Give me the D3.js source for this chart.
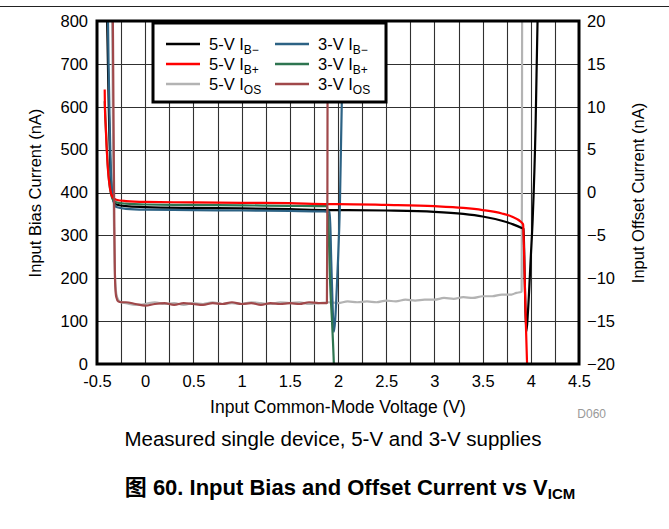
<!DOCTYPE html>
<html><head><meta charset="utf-8">
<script src="https://cdn.jsdelivr.net/npm/d3@7"></script>
<style>
body{margin:0;background:#fff;}
text{font-family:"Liberation Sans",Arial,sans-serif;}
</style></head>
<body>
<svg id="c" width="669" height="529"></svg>
<script>
// ---- data ----
const xTicks = [-0.5,0,0.5,1,1.5,2,2.5,3,3.5,4,4.5];
const xTickLabels = ["-0.5","0","0.5","1","1.5","2","2.5","3","3.5","4","4.5"];
const yLeftTicks = [0,100,200,300,400,500,600,700,800];
const yRightTicks = [-20,-15,-10,-5,0,5,10,15,20];

// 5-V IB- (nA, left axis)
const ib5neg = [[-0.40,860],[-0.39,740],[-0.38,620],[-0.37,520],[-0.36,450],[-0.35,410],[-0.34,390],[-0.32,377],[-0.3,372],[-0.2,368],[0,366],[0.5,364],[1,363],[1.5,361],[1.9,359],[2.0,359],[2.5,358],[3,355],[3.3,350],[3.5,344],[3.7,334],[3.8,327],[3.9,318],[3.925,315],[3.935,220],[3.945,120],[3.955,76],[3.97,120],[4.0,250],[4.02,340],[4.05,560],[4.07,800],[4.08,880]];
// 5-V IB+
const ib5pos = [[-0.42,640],[-0.418,600],[-0.41,555],[-0.40,505],[-0.39,465],[-0.38,437],[-0.37,418],[-0.36,404],[-0.35,395],[-0.33,387],[-0.3,383],[-0.2,380],[0,378],[0.5,377],[1,376],[1.5,375],[1.9,373],[2.0,373],[2.5,371],[3,368],[3.3,364],[3.5,359],[3.7,351],[3.8,344],[3.9,331],[3.92,326],[3.93,260],[3.94,170],[3.95,85],[3.96,10],[3.97,-60]];
// 5-V IOS (nA, right axis)
const ios5 = [[-0.345,22],[-0.34,16],[-0.333,6],[-0.325,-3],[-0.318,-8],[-0.31,-10.6],[-0.3,-11.8],[-0.28,-12.5],[-0.25,-12.8],[-0.2,-12.9],[-0.1,-13.1],[0,-13.0],[0.1,-12.8],[0.2,-13.0],[0.3,-12.9],[0.4,-13.1],[0.5,-12.9],[0.6,-13.0],[0.7,-12.8],[0.8,-13.0],[0.9,-12.9],[1.0,-13.0],[1.1,-12.8],[1.2,-12.9],[1.3,-13.0],[1.4,-12.8],[1.5,-12.9],[1.6,-12.8],[1.7,-13.0],[1.8,-12.9],[1.9,-12.8],[2.0,-12.9],[2.1,-12.7],[2.2,-12.8],[2.3,-12.7],[2.4,-12.8],[2.5,-12.6],[2.6,-12.7],[2.7,-12.5],[2.8,-12.6],[2.9,-12.5],[3.0,-12.5],[3.1,-12.3],[3.2,-12.4],[3.3,-12.2],[3.4,-12.3],[3.5,-12.1],[3.6,-12.1],[3.7,-11.9],[3.8,-11.9],[3.85,-11.7],[3.9,-11.6],[3.905,-11.5],[3.908,0],[3.91,22]];
// 3-V IB-
const ib3neg = [[-0.395,900],[-0.386,800],[-0.38,700],[-0.37,580],[-0.36,480],[-0.35,422],[-0.34,392],[-0.32,373],[-0.3,366],[-0.2,362],[0,360],[0.5,359],[1,358],[1.5,357],[1.85,356],[1.915,355],[1.93,240],[1.945,130],[1.957,75],[1.97,100],[1.99,190],[2.02,375],[2.054,800],[2.06,880]];
// 3-V IB+
const ib3pos = [[-0.42,613],[-0.41,560],[-0.40,510],[-0.39,470],[-0.38,440],[-0.37,418],[-0.36,402],[-0.35,392],[-0.33,382],[-0.3,377],[-0.2,374],[0,372],[0.5,371],[1,370],[1.5,369],[1.887,368],[1.9,330],[1.92,180],[1.94,90],[1.957,0],[1.965,-60]];
// 3-V IOS (right axis)
const ios3 = [[-0.337,22],[-0.334,18],[-0.33,11],[-0.325,3],[-0.32,-4],[-0.315,-9],[-0.31,-11],[-0.3,-12.2],[-0.28,-12.7],[-0.25,-12.8],[-0.2,-12.8],[-0.1,-13.0],[0,-13.2],[0.1,-13.0],[0.2,-12.9],[0.3,-13.1],[0.4,-12.9],[0.5,-13.0],[0.6,-13.1],[0.7,-12.9],[0.8,-13.0],[0.9,-12.8],[1.0,-13.0],[1.1,-12.9],[1.2,-13.1],[1.3,-12.9],[1.4,-13.0],[1.5,-12.9],[1.6,-13.0],[1.7,-12.8],[1.8,-12.9],[1.885,-12.9],[1.89,0],[1.893,22]];

const seriesNames = ["5-V IB−","5-V IB+","5-V IOS","3-V IB−","3-V IB+","3-V IOS"];
const seriesColors = ["#000000","#ff0000","#b3b3b3","#2c6284","#2e7550","#a0484a"];

// ---- layout ----
const svg = d3.select("#c");
const L=97, R=579, T=21, B=364;
const x = d3.scaleLinear().domain([-0.5,4.5]).range([L,R]);
const yL = d3.scaleLinear().domain([0,800]).range([B,T]);
const yR = d3.scaleLinear().domain([-20,20]).range([B,T]);

// top rule
svg.append("line").attr("x1",0).attr("x2",669).attr("y1",6.5).attr("y2",6.5).attr("stroke","#222").attr("stroke-width",1);

// grid
const g = svg.append("g");
const vGrid = d3.range(-0.25,4.5,0.25);
g.selectAll("line.v").data(vGrid).enter().append("line")
  .attr("x1",d=>Math.round(x(d))+0.5).attr("x2",d=>Math.round(x(d))+0.5).attr("y1",T).attr("y2",B)
  .attr("stroke","#303030").attr("stroke-width",1.1);
g.selectAll("line.h").data(yLeftTicks.slice(1,-1)).enter().append("line")
  .attr("y1",d=>Math.round(yL(d))+0.5).attr("y2",d=>Math.round(yL(d))+0.5).attr("x1",L).attr("x2",R)
  .attr("stroke","#303030").attr("stroke-width",1.1);

// axes labels via d3 axes
const axB = svg.append("g").attr("transform",`translate(0,${B})`)
  .call(d3.axisBottom(x).tickValues(xTicks).tickFormat((d,i)=>xTickLabels[i]).tickSize(0).tickPadding(11));
const axL = svg.append("g").attr("transform",`translate(${L},0)`)
  .call(d3.axisLeft(yL).tickValues(yLeftTicks).tickSize(0).tickPadding(9));
const axR = svg.append("g").attr("transform",`translate(${R},0)`)
  .call(d3.axisRight(yR).tickValues(yRightTicks).tickSize(0).tickPadding(8));
[axB,axL,axR].forEach(a=>{
  a.select(".domain").remove();
  a.selectAll("text").attr("font-size","16.5px").attr("fill","#000").attr("font-family","Liberation Sans, Arial, sans-serif");
});

// clip
svg.append("clipPath").attr("id","clip").append("rect").attr("x",L).attr("y",T).attr("width",R-L).attr("height",B-T);

const lineL = d3.line().x(d=>x(d[0])).y(d=>yL(d[1])).curve(d3.curveMonotoneX);
const lineR = d3.line().x(d=>x(d[0])).y(d=>yR(d[1])).curve(d3.curveMonotoneX);

const plot = svg.append("g").attr("clip-path","url(#clip)");
const draws = [
  [ios5, lineR, seriesColors[2]],
  [ib5neg, lineL, seriesColors[0]],
  [ib3neg, lineL, seriesColors[3]],
  [ib3pos, lineL, seriesColors[4]],
  [ib5pos, lineL, seriesColors[1]],
  [ios3, lineR, seriesColors[5]]
];
draws.forEach(([data,ln,col])=>{
  plot.append("path").datum(data).attr("d",ln).attr("fill","none")
    .attr("stroke",col).attr("stroke-width",2.2).attr("stroke-linejoin","round");
});

// frame
svg.append("rect").attr("x",L).attr("y",T).attr("width",R-L).attr("height",B-T)
  .attr("fill","none").attr("stroke","#000").attr("stroke-width",3);

// legend
const lg = svg.append("g");
lg.append("rect").attr("x",153).attr("y",23).attr("width",233).attr("height",79)
  .attr("fill","#fff").attr("stroke","#000").attr("stroke-width",3);
const legendItems = [
  {c:seriesColors[0],main:"5-V I",sub:"B−",col:0,row:0},
  {c:seriesColors[1],main:"5-V I",sub:"B+",col:0,row:1},
  {c:seriesColors[2],main:"5-V I",sub:"OS",col:0,row:2},
  {c:seriesColors[3],main:"3-V I",sub:"B−",col:1,row:0},
  {c:seriesColors[4],main:"3-V I",sub:"B+",col:1,row:1},
  {c:seriesColors[5],main:"3-V I",sub:"OS",col:1,row:2}
];
legendItems.forEach(it=>{
  const lx = 166 + it.col*109, ly = 44 + it.row*20;
  lg.append("line").attr("x1",lx).attr("x2",lx+34).attr("y1",ly).attr("y2",ly)
    .attr("stroke",it.c).attr("stroke-width",2.5);
  const t = lg.append("text").attr("x",lx+43).attr("y",ly+6).attr("font-size","16.5px").attr("fill","#000");
  t.append("tspan").text(it.main);
  t.append("tspan").attr("font-size","12px").attr("dy",4).text(it.sub);
});

// axis titles
svg.append("text").attr("transform","translate(41,193) rotate(-90)").attr("text-anchor","middle")
  .attr("font-size","16.5px").text("Input Bias Current (nA)");
svg.append("text").attr("transform","translate(644,193) rotate(-90)").attr("text-anchor","middle")
  .attr("font-size","16.5px").text("Input Offset Current (nA)");
svg.append("text").attr("x",338).attr("y",413).attr("text-anchor","middle")
  .attr("font-size","17.5px").text("Input Common-Mode Voltage (V)");
svg.append("text").attr("x",606).attr("y",418).attr("text-anchor","end")
  .attr("font-size","12px").attr("fill","#999").text("D060");
svg.append("text").attr("x",333).attr("y",446).attr("text-anchor","middle")
  .attr("font-size","20.5px").text("Measured single device, 5-V and 3-V supplies");

// caption
const cap = svg.append("text").attr("x",350).attr("y",495).attr("text-anchor","middle")
  .attr("font-size","22px").attr("font-weight","bold");
cap.append("tspan").attr("font-family","Noto Sans CJK SC").text("图");
cap.append("tspan").text(" 60. Input Bias and Offset Current vs V");
cap.append("tspan").attr("font-size","15px").attr("dy",4).text("ICM");
</script>
</body></html>
